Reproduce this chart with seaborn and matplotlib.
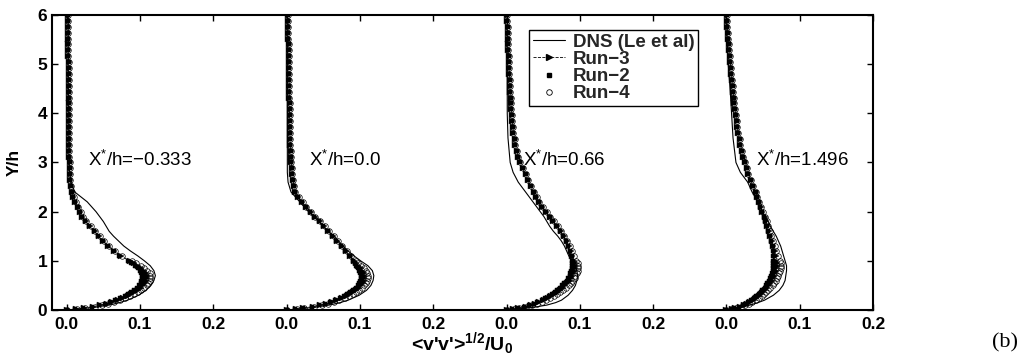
import numpy as np
import pandas as pd
import matplotlib
matplotlib.use("Agg")
import matplotlib.pyplot as plt
from matplotlib.lines import Line2D
import seaborn as sns

# ── Data ─────────────────────────────────────────────────────────────────────
STATIONS = ["X$^{*}$/h=\u22120.333", "X$^{*}$/h=0.0", "X$^{*}$/h=0.66", "X$^{*}$/h=1.496"]
OFFSETS = [0.0, 0.3, 0.6, 0.9]          # each profile is shifted by 0.3 on the x axis
LABEL_POS = [(0.029, 3.05), (0.331, 3.05), (0.623, 3.05), (0.941, 3.05)]

# DNS (Le et al), solid line
DNS_Y = [0, .05, .1, .15, .2, .3, .4, .5, .6, .7, .8, .9, 1.0, 1.1, 1.2, 1.3, 1.4,
         1.5, 1.6, 1.7, 1.8, 1.9, 2.0, 2.2, 2.4, 2.6, 2.8, 3.0, 3.5, 4.0, 4.5, 5.0, 5.5, 6.0]
DNS_1 = [0, .035, .058, .072, .083, .098, .108, .115, .119, .121, .119, .114,
         .106, .097, .087, .078, .071, .064, .058, .054, .050, .045, .040,
         .028, .011, .006, .004, .003, .003, .003, .002, .002, .002, .002]
DNS_2 = [0, .035, .058, .073, .084, .099, .109, .115, .118, .119, .117, .111,
         .101, .092, .084, .077, .071, .065, .057, .050, .044, .037, .030,
         .018, .006, .002, .001, .001, .001, .001, .001, .001, .001, .001]
DNS_3 = [0, .035, .055, .067, .075, .084, .090, .094, .096, .097, .096, .093,
         .089, .085, .082, .079, .075, .070, .064, .059, .055, .051, .046,
         .036, .026, .016, .009, .005, .002, .001, .001, .001, .001, .001]
DNS_4 = [0, .019, .032, .043, .052, .064, .072, .077, .080, .081, .082, .082,
         .080, .078, .076, .074, .071, .068, .064, .060, .057, .053, .049,
         .043, .035, .029, .019, .013, .009, .007, .005, .0025, .001, 0]

# LES runs: near-wall part (differs per run) ...
RUN_Y_LOW = [0.0, 0.02, 0.04, 0.07, 0.10, 0.13, 0.16, 0.20, 0.24, 0.28, 0.32, 0.36,
             0.40, 0.45, 0.50, 0.55, 0.60, 0.65, 0.70, 0.75, 0.80, 0.85, 0.90, 0.95,
             1.00, 1.10, 1.20, 1.30, 1.40, 1.50, 1.60, 1.70, 1.80, 1.90, 2.00, 2.10,
             2.20, 2.30]
RUN2_1 = [0, .012, .022, .034, .044, .052, .059, .066, .073, .079, .084, .088, .092, .096,
          .099, .101, .102, .103, .103, .102, .100, .097, .093, .088, .083, .072, .064,
          .056, .049, .043, .037, .031, .025, .021, .018, .015, .012, .009]
RUN3_1 = [0, .013, .024, .036, .046, .055, .062, .070, .077, .083, .088, .093, .097, .101,
          .104, .107, .108, .109, .109, .108, .106, .102, .097, .092, .086, .074, .065,
          .057, .050, .044, .038, .032, .026, .021, .018, .015, .012, .009]
RUN4_1 = [0, .014, .025, .038, .048, .057, .065, .073, .080, .087, .092, .097, .101, .105,
          .109, .111, .113, .114, .114, .113, .110, .106, .101, .095, .089, .076, .066,
          .058, .051, .045, .039, .033, .027, .022, .019, .016, .013, .010]
RUN2_2 = [0, .012, .022, .034, .044, .052, .059, .066, .073, .078, .083, .087, .091, .094,
          .097, .099, .100, .101, .101, .100, .099, .097, .095, .093, .091, .086, .080,
          .074, .068, .062, .056, .050, .044, .038, .032, .026, .021, .016]
RUN3_2 = [0, .013, .023, .036, .046, .054, .062, .069, .076, .082, .087, .091, .095, .099,
          .102, .104, .105, .106, .106, .105, .103, .101, .098, .095, .092, .087, .081,
          .075, .069, .063, .057, .051, .045, .039, .033, .027, .021, .016]
RUN4_2 = [0, .014, .024, .037, .048, .057, .065, .072, .079, .085, .091, .095, .099, .103,
          .106, .109, .110, .111, .111, .110, .108, .105, .101, .097, .094, .088, .082,
          .076, .070, .064, .058, .052, .045, .039, .033, .027, .022, .017]
RUN2_3 = [0, .008, .015, .024, .031, .037, .042, .048, .053, .058, .062, .066, .069, .073,
          .076, .079, .082, .084, .086, .087, .088, .089, .089, .090, .090, .089, .087,
          .084, .081, .077, .073, .069, .064, .059, .054, .049, .045, .040]
RUN3_3 = [0, .009, .016, .026, .033, .039, .045, .051, .056, .061, .066, .070, .073, .077,
          .080, .083, .086, .088, .090, .091, .092, .093, .093, .093, .092, .090, .088,
          .085, .082, .078, .074, .069, .064, .059, .054, .049, .045, .040]
RUN4_3 = [0, .010, .017, .027, .035, .042, .048, .054, .060, .065, .069, .073, .077, .081,
          .085, .088, .090, .093, .094, .096, .097, .098, .098, .097, .095, .092, .089,
          .086, .082, .078, .074, .070, .065, .060, .055, .050, .045, .041]
RUN2_4 = [0, .006, .011, .017, .022, .026, .030, .034, .038, .041, .044, .047, .049, .052,
          .054, .056, .058, .060, .061, .062, .063, .064, .064, .064, .064, .064, .064,
          .063, .061, .059, .057, .055, .053, .051, .049, .046, .044, .042]
RUN3_4 = [0, .007, .012, .018, .024, .028, .032, .037, .041, .044, .047, .050, .053, .056,
          .058, .060, .062, .064, .065, .066, .067, .068, .069, .069, .068, .067, .066,
          .064, .062, .060, .058, .056, .054, .052, .049, .047, .044, .042]
RUN4_4 = [0, .007, .013, .020, .026, .031, .035, .040, .044, .048, .051, .054, .057, .060,
          .063, .065, .067, .069, .071, .072, .073, .074, .075, .074, .073, .070, .068,
          .066, .063, .061, .059, .057, .055, .052, .050, .047, .045, .042]

# ... and the outer part, where the three runs coincide
RUN_Y_TOP = [2.40, 2.52, 2.64, 2.76, 2.88, 3.00, 3.12, 3.24, 3.36, 3.48, 3.60, 3.72,
             3.84, 3.96, 4.08, 4.20, 4.32, 4.44, 4.56, 4.68, 4.80, 4.92, 5.04, 5.16,
             5.28, 5.40, 5.52, 5.64, 5.76, 5.88, 6.00]
TAIL_1 = [.007, .006, .005, .0045, .004, .004, .0035, .0035, .0035, .003, .003, .003,
          .003, .003, .003, .003, .003, .0025, .0025, .0025, .0025, .0025, .0025, .002,
          .002, .002, .002, .002, .002, .002, .002]
TAIL_2 = [.012, .010, .009, .008, .007, .0065, .006, .0055, .005, .005, .0045, .0045,
          .004, .004, .004, .004, .0035, .0035, .0035, .0035, .003, .003, .003, .003,
          .003, .003, .0025, .0025, .0025, .002, .002]
TAIL_3 = [.037, .033, .029, .026, .022, .019, .016, .014, .012, .011, .0095, .0088,
          .008, .0072, .0065, .006, .0055, .005, .0046, .0042, .0038, .0034, .003,
          .0028, .0025, .0022, .002, .0018, .0015, .0012, .001]
TAIL_4 = [.040, .036, .033, .030, .028, .026, .023, .021, .019, .018, .016, .015,
          .014, .013, .012, .011, .010, .009, .0083, .0075, .0068, .006, .0052, .0045,
          .0038, .0032, .0026, .002, .0014, .0008, .0003]

DNS_X = [DNS_1, DNS_2, DNS_3, DNS_4]
RUN2_X = [RUN2_1, RUN2_2, RUN2_3, RUN2_4]
RUN3_X = [RUN3_1, RUN3_2, RUN3_3, RUN3_4]
RUN4_X = [RUN4_1, RUN4_2, RUN4_3, RUN4_4]
TAILS = [TAIL_1, TAIL_2, TAIL_3, TAIL_4]

XTICKS = [0.0, 0.1, 0.2, 0.3, 0.4, 0.5, 0.6, 0.7, 0.8, 0.9, 1.0, 1.1]
XTICK_LABELS = ["0.0", "0.1", "0.2", "0.0", "0.1", "0.2",
                "0.0", "0.1", "0.2", "0.0", "0.1", "0.2"]
YTICKS = [0, 1, 2, 3, 4, 5, 6]

# ── Style ────────────────────────────────────────────────────────────────────
sns.set_theme(style="white")
plt.rcParams["font.family"] = ["Liberation Sans", "DejaVu Sans"]
plt.rcParams["mathtext.fontset"] = "custom"
plt.rcParams["mathtext.rm"] = "Liberation Sans"
plt.rcParams["mathtext.it"] = "Liberation Sans:italic"
plt.rcParams["mathtext.bf"] = "Liberation Sans:bold"

fig = plt.figure(figsize=(10.18, 3.56), dpi=100)
ax = fig.add_axes([0.0511, 0.1292, 0.8065, 0.8287])

run_y = RUN_Y_LOW + RUN_Y_TOP
for k, off in enumerate(OFFSETS):
    dns = pd.DataFrame({"x": np.array(DNS_X[k]) + off, "y": DNS_Y})
    r2 = pd.DataFrame({"x": np.array(RUN2_X[k] + TAILS[k]) + off, "y": run_y})
    r3 = pd.DataFrame({"x": np.array(RUN3_X[k] + TAILS[k]) + off, "y": run_y})
    r4 = pd.DataFrame({"x": np.array(RUN4_X[k] + TAILS[k]) + off, "y": run_y})

    sns.lineplot(data=dns, x="x", y="y", sort=False, estimator=None, ax=ax,
                 color="black", linewidth=0.8)
    sns.lineplot(data=r4, x="x", y="y", sort=False, estimator=None, ax=ax,
                 color="black", linestyle="none", marker="o", markersize=4,
                 markerfacecolor="none", markeredgecolor="black", markeredgewidth=0.5)
    sns.lineplot(data=r2, x="x", y="y", sort=False, estimator=None, ax=ax,
                 color="black", linestyle="none", marker="s", markersize=3.4,
                 markeredgecolor="black", markeredgewidth=0.3)
    sns.lineplot(data=r3, x="x", y="y", sort=False, estimator=None, ax=ax,
                 color="black", linestyle="--", linewidth=0.6, marker=">",
                 markersize=4.2, markeredgecolor="black", markeredgewidth=0.3)

    ax.text(LABEL_POS[k][0], LABEL_POS[k][1], STATIONS[k], fontsize=13.5,
            ha="left", va="center", color="black")

# ── Axes ─────────────────────────────────────────────────────────────────────
ax.set_xlim(-0.02, 1.1)
ax.set_ylim(0, 6)
ax.set_xticks(XTICKS)
ax.set_xticklabels(XTICK_LABELS, fontweight="bold", fontsize=12.5)
ax.set_yticks(YTICKS)
ax.set_yticklabels([str(v) for v in YTICKS], fontweight="bold", fontsize=12.5)
ax.tick_params(axis="both", direction="in", length=4, width=1.0, colors="black",
               top=True, right=True, bottom=True, left=True)
ax.tick_params(axis="x", pad=5)
ax.tick_params(axis="y", pad=3.5)
for sp in ax.spines.values():
    sp.set_visible(True)
    sp.set_color("black")
    sp.set_linewidth(1.5)

ax.set_xlabel("<v'v'>$^{\\mathbf{1/2}}$/U$_{\\mathbf{0}}$", fontweight="bold",
              fontsize=14, color="black")
ax.xaxis.set_label_coords(0.5, -0.068)
ax.set_ylabel("Y/h", fontweight="bold", fontsize=12.5, color="black")
ax.yaxis.set_label_coords(-0.0365, 0.5)

handles = [
    Line2D([], [], color="black", linewidth=0.8),
    Line2D([], [], color="black", linestyle="--", linewidth=0.6, marker=">",
           markersize=4),
    Line2D([], [], color="black", linestyle="none", marker="s", markersize=3.2),
    Line2D([], [], color="black", linestyle="none", marker="o", markersize=4,
           markerfacecolor="none", markeredgewidth=0.6),
]
labels = ["DNS (Le et al)", "Run\u22123", "Run\u22122", "Run\u22124"]
leg = ax.legend(handles, labels, loc="upper left", bbox_to_anchor=(0.581, 0.949),
                borderaxespad=0, frameon=True, fancybox=False, framealpha=1,
                edgecolor="black", prop={"weight": "bold", "size": 13.5},
                handlelength=1.7, handletextpad=0.45, labelspacing=0.0,
                borderpad=0.2)
leg.get_frame().set_linewidth(1.0)

fig.text(0.987, 0.036, "(b)", family=["Liberation Serif", "DejaVu Serif"],
         fontsize=16, ha="center", va="center", color="black")

fig.savefig("out.png", dpi=100)
